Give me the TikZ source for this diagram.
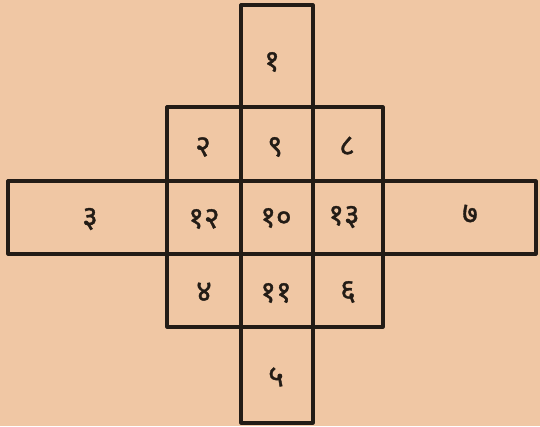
\documentclass[tikz,border=0pt]{standalone}
\usepackage{fontspec}
\newfontfamily\deva[Script=Devanagari,FakeBold=1.2]{Noto Sans}
\definecolor{paper}{RGB}{240,199,164}
\definecolor{ink}{RGB}{35,28,22}
\begin{document}
\begin{tikzpicture}[x=1pt,y=-1pt,
  box/.style={draw=ink,line width=3.2pt,line join=round},
  num/.style={font=\deva\fontsize{30}{30}\selectfont,text=ink,inner sep=0pt}]
\fill[paper] (0,0) rectangle (540,426);
\useasboundingbox (0,0) rectangle (540,426);
% vertical column
\draw[box] (241,5) rectangle (313,107);
\draw[box] (241,327) rectangle (313,423);
% horizontal bar
\draw[box] (8,181) rectangle (536,254);
% 3x3 square
\draw[box] (167,107) rectangle (383,327);
\draw[box] (241,107) -- (241,327);
\draw[box] (313,107) -- (313,327);
% labels
\node[num] (n1) at (272,62) {१};
\node[num] (n2) at (203,147) {२};
\node[num] (n9) at (275,147) {९};
\node[num] (n8) at (347,146) {८};
\node[num] (n3) at (90,219) {३};
\node[num] (n12) at (204,219) {१२};
\node[num] (n10) at (276,218) {१०};
\node[num] (n13) at (344,217) {१३};
\node[num] (n7) at (470,214) {७};
\node[num] (n4) at (204,292) {४};
\node[num] (n11) at (276,293) {११};
\node[num] (n6) at (348,292) {६};
\node[num] (n5) at (276,377) {५};
\end{tikzpicture}
\end{document}
